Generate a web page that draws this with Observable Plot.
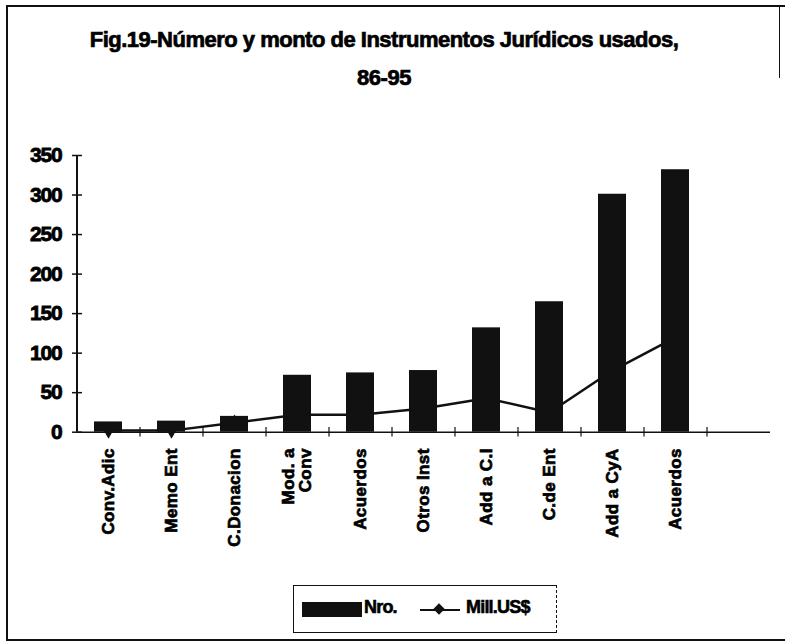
<!DOCTYPE html>
<html><head><meta charset="utf-8">
<script src="https://cdn.jsdelivr.net/npm/d3@7"></script>
<script src="https://cdn.jsdelivr.net/npm/@observablehq/plot@0.6"></script>
<style>
body{margin:0;background:#fff;font-family:"Liberation Sans",Arial,sans-serif;}
#wrap{position:relative;width:785px;height:644px;overflow:hidden;background:#fff;}
#frame{position:absolute;left:6px;top:5px;width:800px;height:632px;border-left:2.5px solid #111;border-top:2px solid #111;border-bottom:2.5px solid #111;}
#rseg{position:absolute;left:779px;top:5px;width:0;height:73px;border-left:1.5px solid #111;}
.title{position:absolute;left:0;width:768px;text-align:center;font-weight:bold;font-size:22px;letter-spacing:-0.5px;color:#000;line-height:26px;-webkit-text-stroke:0.7px #000;}
#chart{position:absolute;left:0;top:100px;}
#legend{position:absolute;left:293px;top:585px;width:264px;height:48px;border:1.5px solid #111;border-right-style:dashed;box-sizing:border-box;font-weight:bold;font-size:18px;letter-spacing:-0.8px;-webkit-text-stroke:0.6px #000;}
#legend .sw{position:absolute;left:8px;top:16px;width:60px;height:15px;background:#111;}
#legend .t1{position:absolute;left:70px;top:11px;}
#legend .ln{position:absolute;left:126px;top:23px;width:40px;height:2px;background:#111;}
#legend .dm{position:absolute;left:141px;top:19px;width:8px;height:8px;background:#111;transform:rotate(45deg);}
#legend .t2{position:absolute;left:172px;top:11px;}
g[aria-label="y-axis tick label"] text{letter-spacing:-1.2px;stroke:#000;stroke-width:0.8px;}
g[aria-label="x-axis tick label"] text{letter-spacing:0.4px;stroke:#000;stroke-width:0.7px;}
</style>
</head><body>
<div id="wrap">
  <div id="frame"></div>
  <div id="rseg"></div>
  <div class="title" style="top:27px">Fig.19-Número y monto de Instrumentos Jurídicos usados,</div>
  <div class="title" style="top:65px">86-95</div>
  <div id="chart"></div>
  <div id="legend"><div class="sw"></div><div class="t1">Nro.</div><div class="ln"></div><div class="dm"></div><div class="t2">Mill.US$</div></div>
</div>
<script>
const categories = ["Conv.Adic","Memo Ent","C.Donacion","Mod. a\nConv","Acuerdos","Otros Inst","Add a C.I","C.de Ent","Add a CyA","Acuerdos",""];
const nro = [13,14,20,72,75,78,132,165,301,332];
const mill = [2,2,12,22,22,30,43,25,78,120];
const yTicks = [0,50,100,150,200,250,300,350];

const rows = nro.map((v, i) => ({i, nro: v, mill: mill[i]}));
const idx = d3.range(categories.length);
const halfStep = (785 - 77 - 15) / categories.length / 2;

const chart = Plot.plot({
  width: 785, height: 465,
  marginLeft: 77, marginRight: 15, marginTop: 55, marginBottom: 133.3,
  style: {fontFamily: "Liberation Sans, Arial, sans-serif", background: "transparent", color: "#000"},
  x: {type: "band", domain: idx, paddingInner: 0.55, paddingOuter: 0.275},
  y: {domain: [0, 350]},
  marks: [
    Plot.barY(rows, {x: "i", y: "nro", fill: "#111"}),
    Plot.line(rows, {x: "i", y: "mill", stroke: "#111", strokeWidth: 2.5}),
    Plot.dot(rows, {x: "i", y: "mill", symbol: "diamond", r: 5, fill: "#111"}),
    Plot.ruleY([0], {stroke: "#111", strokeWidth: 1.5}),
    Plot.ruleX([0], {x: d => d, y1: 0, y2: 350, dx: -halfStep, stroke: "#111", strokeWidth: 2}),
    Plot.ruleX(idx.slice(1), {x: d => d, y1: -6, y2: 6, dx: -halfStep, stroke: "#111", strokeWidth: 1.2}),
    Plot.axisY({ticks: yTicks, tickSize: 10, dx: 5, tickFormat: () => "", label: null, stroke: "#111", strokeWidth: 1.5}),
    Plot.axisY({ticks: yTicks, tickSize: 0, tickPadding: 16, fontSize: 21, fontWeight: "bold", label: null}),
    Plot.axisX({tickSize: 0, tickRotate: -90, tickPadding: 16, tickFormat: i => categories[i], fontSize: 17, fontWeight: "bold", label: null})
  ]
});
document.getElementById("chart").appendChild(chart);
</script>
</body></html>
